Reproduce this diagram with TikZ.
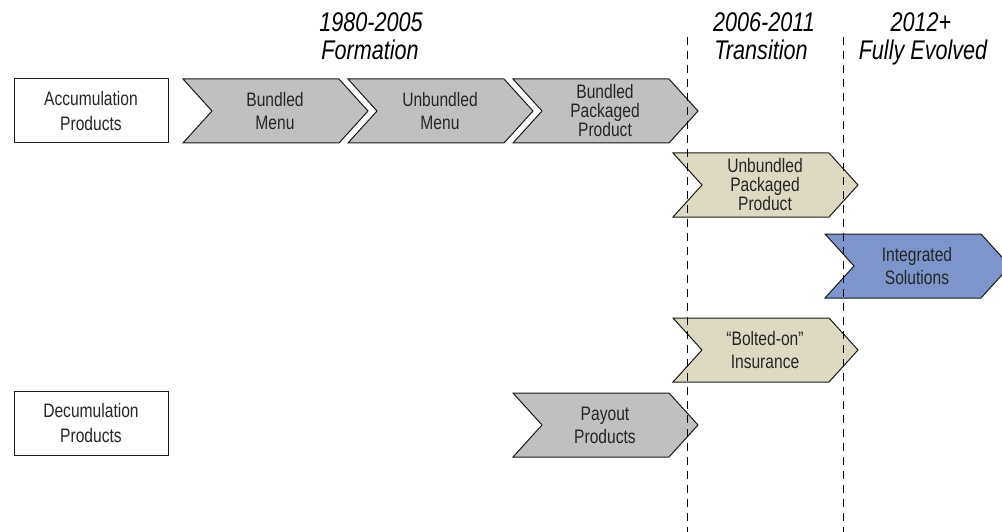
\documentclass[tikz,border=0pt]{standalone}
\usepackage{fontspec}
\setmainfont[FakeStretch=0.8]{Liberation Sans}
\definecolor{cgray}{HTML}{C0C0C0}
\definecolor{ctan}{HTML}{DDD9C3}
\definecolor{cblue}{HTML}{7D95CC}
\definecolor{edge}{HTML}{1A1A1A}
\definecolor{txt}{HTML}{262626}
% chevron: style, left x, top y, name of its centre
\newcommand{\chevshape}[4]{%
  \path[#1] (#2,#3) -- ++(156,0) -- ++(29,32) -- ++(-29,32) -- ++(-156,0) -- ++(29,-32) -- cycle;
  \coordinate (#4) at (#2+92,#3+32);}
\begin{document}
\begin{tikzpicture}[x=1pt,y=-1pt,
  chev/.style={draw=edge,line width=1pt,line join=miter},
  chevgray/.style={chev,fill=cgray},
  chevtan/.style={chev,fill=ctan},
  chevblue/.style={chev,fill=cblue},
  lbl/.style={text=txt,align=center,inner sep=0pt,font=\fontsize{19.5}{23}\selectfont},
  lblthree/.style={lbl,font=\fontsize{19.5}{19}\selectfont},
  catbox/.style={draw=edge,line width=1pt,fill=white,minimum width=154pt,minimum height=64pt,
    text=txt,align=center,inner sep=0pt,font=\fontsize{19.5}{25}\selectfont},
  hdr/.style={anchor=base,inner sep=0pt,font=\fontsize{27}{28}\selectfont\itshape},
  era/.style={draw=black,line width=1pt,dash pattern=on 8pt off 6pt}]
\useasboundingbox (0,0) rectangle (1002,532);

% period headings
\node[hdr] (y1) at (371,32) {1980-2005};
\node[hdr] (p1) at (370,60) {Formation};
\node[hdr] (y2) at (764,32) {2006-2011};
\node[hdr] (p2) at (761,60) {Transition};
\node[hdr] (y3) at (921,32) {2012+};
\node[hdr] (p3) at (923,60) {Fully Evolved};

% product categories
\node[catbox] (acc) at (91,111) {Accumulation\\Products};
\node[catbox] (dec) at (91,423) {Decumulation\\Products};

% accumulation path
\chevshape{chevgray}{183}{79}{c1}
\chevshape{chevgray}{348}{79}{c2}
\chevshape{chevgray}{513}{79}{c3}
\node[lbl] (bm) at (c1) {Bundled\\Menu};
\node[lbl] (um) at (c2) {Unbundled\\Menu};
\node[lblthree] (bpp) at (c3) {Bundled\\Packaged\\Product};

\chevshape{chevtan}{673}{153}{c4}
\node[lblthree] (upp) at (c4) {Unbundled\\Packaged\\Product};

\chevshape{chevblue}{825}{234}{c5}
\node[lbl] (is) at (c5) {Integrated\\Solutions};

\chevshape{chevtan}{673}{318}{c6}
\node[lbl] (boi) at (c6) {\char"201C Bolted-on\char"201D\\Insurance};

% decumulation path
\chevshape{chevgray}{513}{393}{c7}
\node[lbl] (pp) at (c7) {Payout\\Products};

% period boundaries
\coordinate (b1top) at (687,37);
\coordinate (b1bot) at (687,532);
\coordinate (b2top) at (843,37);
\coordinate (b2bot) at (843,532);
\draw[era] (b1top) -- (b1bot);
\draw[era] (b2top) -- (b2bot);
\end{tikzpicture}
\end{document}
